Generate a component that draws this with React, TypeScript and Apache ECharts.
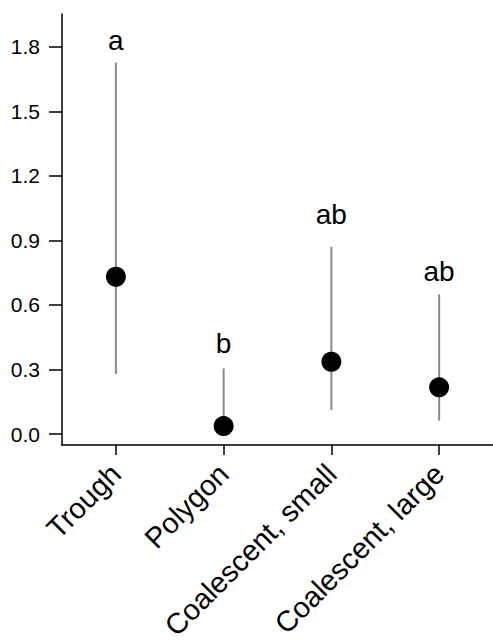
import React, { useEffect, useRef } from "react";
import * as echarts from "echarts";

const categories = ["Trough", "Polygon", "Coalescent, small", "Coalescent, large"];
const means = [0.731, 0.037, 0.336, 0.217];
const lower = [0.279, 0.005, 0.112, 0.062];
const upper = [1.727, 0.305, 0.87, 0.649];
const letters = ["a", "b", "ab", "ab"];
const letterY = [1.83, 0.423, 1.018, 0.754];
const yTicks = [0, 0.3, 0.6, 0.9, 1.2, 1.5, 1.8];
const yMin = -0.051;
const yMax = 1.952;

const FONT = "'Liberation Sans', Arial, sans-serif";

export default function App() {
  const ref = useRef<HTMLDivElement>(null);
  useEffect(() => {
    if (!ref.current) return;
    const chart = echarts.init(ref.current, null, { renderer: "svg" });
    chart.setOption({
      animation: false,
      backgroundColor: "#ffffff",
      grid: {
        left: 62,
        right: 0,
        top: 14,
        bottom: 196,
        containLabel: false,
        outerBoundsMode: "none",
      },
      xAxis: {
        type: "category",
        data: categories,
        boundaryGap: true,
        axisLine: { show: true, onZero: false, lineStyle: { color: "#000", width: 1.5 } },
        axisTick: { show: true, alignWithLabel: true, length: 10, lineStyle: { color: "#000", width: 1.5 } },
        axisLabel: {
          rotate: 45,
          interval: 0,
          margin: 24,
          color: "#000",
          fontSize: 29,
          fontFamily: FONT,
        },
        splitLine: { show: false },
      },
      yAxis: {
        type: "value",
        min: yMin,
        max: yMax,
        axisLine: { show: true, onZero: false, lineStyle: { color: "#000", width: 1.5 } },
        axisTick: { show: true, length: 13, customValues: yTicks, lineStyle: { color: "#000", width: 1.5 } },
        axisLabel: {
          customValues: yTicks,
          margin: 22,
          color: "#000",
          fontSize: 21,
          fontFamily: FONT,
          formatter: (v: number) => v.toFixed(1),
        },
        splitLine: { show: false },
      },
      series: [
        {
          type: "custom",
          data: categories.map((_, i) => [i, lower[i], upper[i]]),
          renderItem: (params: any, api: any) => {
            const x = api.value(0);
            const lo = api.coord([x, api.value(1)]);
            const hi = api.coord([x, api.value(2)]);
            return {
              type: "line",
              shape: { x1: lo[0], y1: lo[1], x2: hi[0], y2: hi[1] },
              style: { stroke: "#8a8a8a", lineWidth: 2 },
            };
          },
          z: 1,
        },
        {
          type: "scatter",
          data: categories.map((_, i) => [i, means[i]]),
          symbol: "circle",
          symbolSize: 20,
          itemStyle: { color: "#000", opacity: 1 },
          z: 2,
        },
        {
          type: "custom",
          data: categories.map((_, i) => [i, letterY[i]]),
          renderItem: (params: any, api: any) => {
            const p = api.coord([api.value(0), api.value(1)]);
            return {
              type: "text",
              x: p[0],
              y: p[1],
              style: {
                text: letters[params.dataIndex],
                fill: "#000",
                fontSize: 28,
                fontFamily: FONT,
                align: "center",
                verticalAlign: "middle",
              },
            };
          },
          z: 3,
        },
      ],
    });
    return () => chart.dispose();
  }, []);
  return (
    <div
      ref={ref}
      style={{ position: "fixed", left: 0, top: 0, width: 493, height: 641, background: "#fff" }}
    />
  );
}
